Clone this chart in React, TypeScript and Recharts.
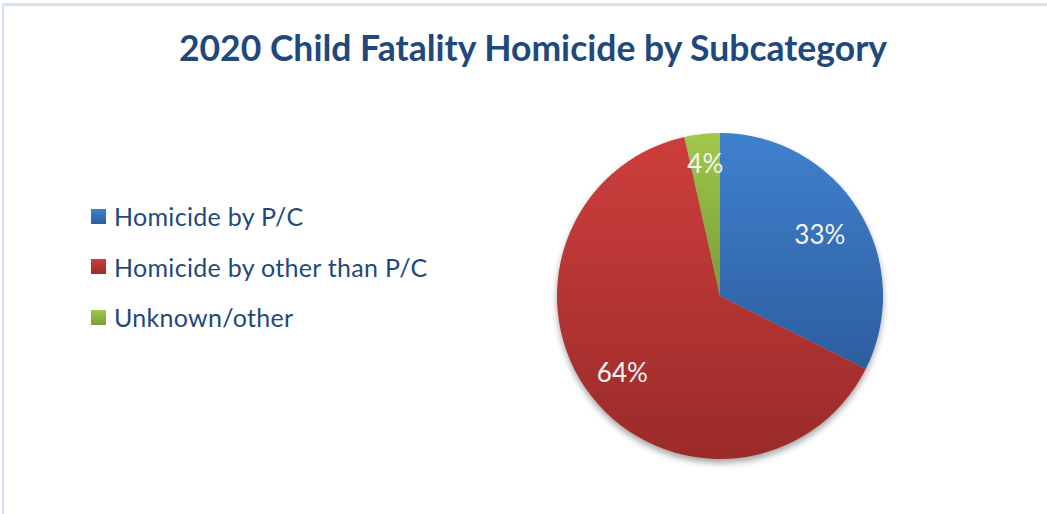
import React from 'react';
import { PieChart, Pie, Cell, Legend } from 'recharts';

const categories = ['Homicide by P/C', 'Homicide by other than P/C', 'Unknown/other'];
const shares = [32.4, 64.1, 3.5];
const percentLabels = ['33%', '64%', '4%'];

const data = categories.map((name, i) => ({ name, value: shares[i], label: percentLabels[i] }));

const gradients = [
  { id: 'gBlue', top: '#3F81CE', bottom: '#2D5E9E' },
  { id: 'gRed', top: '#CD3E3C', bottom: '#9A2B29' },
  { id: 'gGreen', top: '#A0C84A', bottom: '#7A9C38' },
];

const labelFactor = [0.72, 0.76, 0.82];
const RAD = Math.PI / 180;

const renderLabel = (props: any) => {
  const { cx, cy, midAngle, outerRadius, index } = props;
  const r = outerRadius * labelFactor[index];
  const x = cx + r * Math.cos(-midAngle * RAD);
  const y = cy + r * Math.sin(-midAngle * RAD);
  return (
    <text
      x={x}
      y={y}
      fill="#F4F4F4"
      textAnchor="middle"
      dominantBaseline="central"
      fontFamily="Lato, sans-serif"
      fontSize={26}
    >
      {data[index].label}
    </text>
  );
};

const renderLegend = () => (
  <div style={{ fontFamily: 'Lato, sans-serif', fontSize: 25, letterSpacing: 0.3, color: '#1F497D' }}>
    {categories.map((c, i) => (
      <div key={c} style={{ display: 'flex', alignItems: 'center', height: 50.5 }}>
        <span
          style={{
            display: 'inline-block',
            width: 15,
            height: 15,
            marginRight: 8,
            background: `linear-gradient(${gradients[i].top}, ${gradients[i].bottom})`,
          }}
        />
        <span>{c}</span>
      </div>
    ))}
  </div>
);

export default function App() {
  return (
    <div style={{ position: 'absolute', left: 0, top: 0, width: 1047, height: 514, background: '#fff', overflow: 'hidden' }}>
      <style>{`.shadowed .recharts-pie { filter: drop-shadow(0px 4px 3px rgba(0,0,0,0.35)); }`}</style>
      <div
        style={{
          position: 'absolute',
          left: 2,
          top: 3,
          width: 1060,
          height: 520,
          borderTop: '3px solid #D6E2F0',
          borderLeft: '2px solid #D6E2F0',
        }}
      />
      <div
        style={{
          position: 'absolute',
          left: 0,
          top: 26,
          width: 1066,
          textAlign: 'center',
          fontFamily: 'Lato, sans-serif',
          fontWeight: 700,
          fontSize: 35.5,
          color: '#1F497D',
        }}
      >
        2020 Child Fatality Homicide by Subcategory
      </div>
      <div className="shadowed" style={{ position: 'absolute', left: 0, top: 0 }}>
        <PieChart width={1047} height={514} margin={{ top: 0, right: 0, bottom: 0, left: 0 }}>
          <defs>
            {gradients.map((g) => (
              <linearGradient key={g.id} id={g.id} x1="0" y1="0" x2="0" y2="1">
                <stop offset="0%" stopColor={g.top} />
                <stop offset="100%" stopColor={g.bottom} />
              </linearGradient>
            ))}
          </defs>
          <Pie
            data={data}
            dataKey="value"
            nameKey="name"
            cx={720}
            cy={296}
            outerRadius={163}
            startAngle={90}
            endAngle={-270}
            stroke="none"
            labelLine={false}
            label={renderLabel}
            isAnimationActive={false}
          >
            {data.map((d, i) => (
              <Cell key={d.name} fill={`url(#${gradients[i].id})`} />
            ))}
          </Pie>
          <Legend
            layout="vertical"
            content={renderLegend}
            wrapperStyle={{ left: 91, top: 191, width: 420 }}
          />
        </PieChart>
      </div>
    </div>
  );
}
